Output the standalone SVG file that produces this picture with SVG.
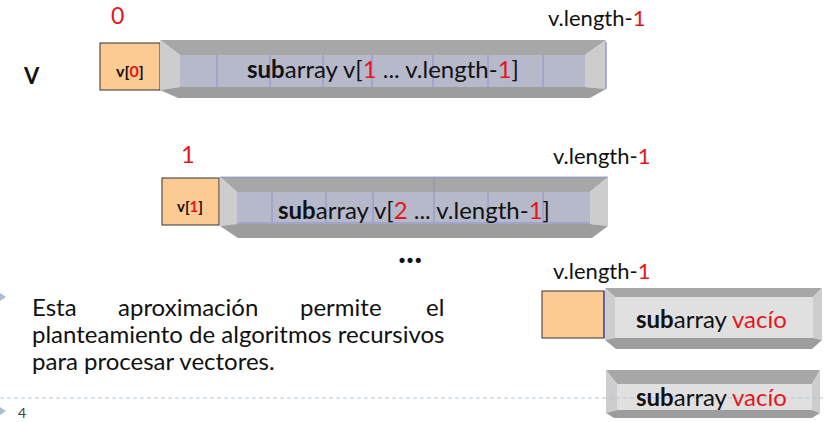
<svg xmlns="http://www.w3.org/2000/svg" width="825" height="422" viewBox="0 0 825 422">
<style>
text{font-family:"Lato","Liberation Sans",sans-serif;fill:#111}
.lbl{font-size:22px}
.red{fill:#e8141b}
.b{font-weight:bold}
.top{fill:#a7a7a7}
.bot{fill:#9d9d9d}
.side{fill:#cdcdcd}
.front{fill:#b6b9c9}
.lfront{fill:#e0e0e0}
.org{fill:#fcca93;stroke:#333;stroke-width:1}
.grid{stroke:#7c7fd0;stroke-width:0.8;opacity:0.8}
.bar{font-size:24px}
.body{font-size:24px}
</style>

<g id="row1">
  <text class="red" x="111" y="24" style="font-size:23px">0</text>
  <text class="lbl" x="548" y="26">v.length-<tspan class="red">1</tspan></text>
  <text class="lbl b" x="24" y="84">V</text>
  <g id="v0">
    <rect class="org" x="100" y="43" width="60" height="47"/>
    <text x="130" y="77" text-anchor="middle" style="font-size:16px;font-weight:bold">v[<tspan class="red">0</tspan>]</text>
  </g>
  <g id="sub1">
    <polygon class="top" points="160,40 606,40 585,55 180,55"/>
    <polygon class="side" points="160,40 180,55 180,87 160,90"/>
    <polygon class="side" points="606,40 606,89 585,87 585,55"/>
    <polygon class="bot" points="160,90 180,87 585,87 606,89 590,98 178,98"/>
    <rect class="front" x="180" y="55" width="405" height="32"/>
    <g class="grid">
      <line x1="217" y1="55" x2="217" y2="87"/><line x1="270" y1="55" x2="270" y2="87"/>
      <line x1="323" y1="55" x2="323" y2="87"/><line x1="372" y1="55" x2="372" y2="87"/>
      <line x1="433" y1="55" x2="433" y2="87"/><line x1="488" y1="55" x2="488" y2="87"/>
      <line x1="543" y1="55" x2="543" y2="87"/><line x1="606" y1="42" x2="606" y2="89" style="stroke-width:1.5"/>
    </g>
    <text class="bar" x="247" y="78"><tspan class="b">sub</tspan>array v[<tspan class="red">1</tspan>  ... v.length-<tspan class="red">1</tspan>]</text>
  </g>
</g>

<g id="row2">
  <text class="red" x="181" y="163" style="font-size:24px">1</text>
  <text class="lbl" x="553" y="164">v.length-<tspan class="red">1</tspan></text>
  <g id="v1">
    <rect class="org" x="162" y="178" width="57" height="47"/>
    <text x="190" y="212" text-anchor="middle" style="font-size:15px;font-weight:bold">v[<tspan class="red">1</tspan>]</text>
  </g>
  <g id="sub2">
    <polygon class="top" points="220,177 608,177 590,192 237,192"/>
    <polygon class="side" points="220,177 237,192 237,224 220,226"/>
    <polygon class="side" points="608,177 608,226 590,224 590,192"/>
    <polygon class="bot" points="220,226 237,224 590,224 608,226 592,238 238,238"/>
    <rect class="front" x="237" y="192" width="353" height="32"/>
    <g class="grid">
      <line x1="220" y1="177" x2="608" y2="177"/><line x1="237" y1="223" x2="590" y2="223"/>
      <line x1="272" y1="192" x2="272" y2="223"/><line x1="326" y1="192" x2="326" y2="223"/>
      <line x1="373" y1="192" x2="373" y2="223"/><line x1="434" y1="177" x2="434" y2="223"/>
      <line x1="488" y1="192" x2="488" y2="223"/><line x1="543" y1="192" x2="543" y2="223"/>
    </g>
    <text class="bar" x="278" y="219"><tspan class="b">sub</tspan>array v[<tspan class="red">2</tspan> ... v.length-<tspan class="red">1</tspan>]</text>
  </g>
  <text x="398" y="263" style="font-size:34px;font-weight:bold">...</text>
</g>

<g id="row3">
  <text class="lbl" x="553" y="279">v.length-<tspan class="red">1</tspan></text>
  <rect id="vlast" class="org" x="542" y="291" width="62" height="47"/>
  <line x1="604" y1="291" x2="604" y2="338" stroke="#3a3ab0" stroke-width="1"/>
  <g id="sub3">
    <polygon class="top" points="605,288 822,288 813,297 615,297"/>
    <polygon class="side" points="605,288 615,297 615,338 605,340"/>
    <polygon class="side" points="822,288 822,340 813,338 813,297"/>
    <polygon class="bot" points="605,340 615,338 813,338 822,340 812,349 616,349"/>
    <rect class="lfront" x="615" y="297" width="198" height="41"/>
    <text class="bar" x="636" y="328"><tspan class="b">sub</tspan>array <tspan class="red">vacío</tspan></text>
  </g>
</g>

<g id="row4">
  <g id="sub4">
    <polygon class="top" points="606,370 820,370 812,384 617,384"/>
    <polygon class="side" points="606,370 617,384 617,410 606,413"/>
    <polygon class="side" points="820,370 820,413 812,410 812,384"/>
    <polygon class="bot" points="606,413 617,410 812,410 820,413 812,418 614,418"/>
    <rect class="lfront" x="617" y="384" width="195" height="26"/>
  </g>
</g>

<line x1="0" y1="398" x2="825" y2="398" stroke="#b4c4d6" stroke-width="1" stroke-dasharray="4,3"/>
<text class="bar" x="636" y="406"><tspan class="b">sub</tspan>array <tspan class="red">vacío</tspan></text>

<g id="bullet">
  <polygon points="0,293 6,297 0,301" fill="#a9bdd6"/>
  <text class="body" x="32" y="316">Esta</text>
  <text class="body" x="118" y="316">aproximación</text>
  <text class="body" x="300" y="316">permite</text>
  <text class="body" x="426" y="316">el</text>
  <text class="body" x="32" y="343">planteamiento de algoritmos recursivos</text>
  <text class="body" x="32" y="370">para procesar vectores.</text>
</g>

<g id="footer">
  <polygon points="0,407 6,411 0,415" fill="#a9bdd6"/>
  <text x="18" y="418" style="font-size:14px;fill:#404040">4</text>
</g>
</svg>
